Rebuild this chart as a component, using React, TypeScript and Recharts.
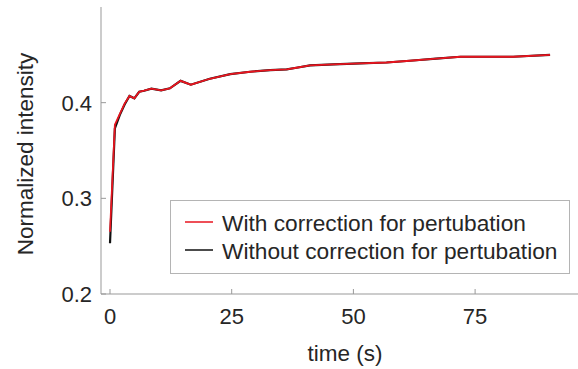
import { LineChart, Line, XAxis, YAxis, Legend } from "recharts";

// time (s)
const time = [0, 1, 2, 3, 4, 5, 6, 7, 8.5, 10.5, 12.3, 14.5, 16.6, 20.5, 24.7, 28.8, 32.9, 36.3, 38.3, 41.1, 45.9, 51.4, 56.8, 61.6, 67, 72, 76, 82.8, 90.4];
const withCorrection = [0.265, 0.377, 0.388, 0.399, 0.407, 0.4045, 0.4114, 0.4125, 0.4146, 0.4128, 0.415, 0.4228, 0.4188, 0.425, 0.4299, 0.4323, 0.4341, 0.4348, 0.4365, 0.439, 0.44, 0.441, 0.442, 0.4438, 0.446, 0.448, 0.448, 0.448, 0.45];
const withoutCorrection = [0.253, 0.373, 0.387, 0.398, 0.407, 0.4045, 0.4114, 0.4125, 0.4146, 0.4128, 0.415, 0.4228, 0.4188, 0.425, 0.4299, 0.4323, 0.4341, 0.4348, 0.4365, 0.439, 0.44, 0.441, 0.442, 0.4438, 0.446, 0.448, 0.448, 0.448, 0.45];
const xTicks = [0, 25, 50, 75];
const yTicks = [0.2, 0.3, 0.4];

const FONT = "'Liberation Sans', Arial, sans-serif";
const TEXT = "#262626";
const AXIS = "#999999";

const chartData = time.map((t, i) => ({
  t,
  withC: withCorrection[i],
  withoutC: withoutCorrection[i],
}));

const YTick = (props: any) => {
  const { x, y, payload } = props;
  return (
    <g>
      <line x1={x + 9} x2={x + 14} y1={y} y2={y} stroke={AXIS} />
      <text x={x} y={y + 8} textAnchor="end" fontSize={22} fontFamily={FONT} fill={TEXT}>
        {payload.value.toFixed(1)}
      </text>
    </g>
  );
};

const XTick = (props: any) => {
  const { x, y, payload } = props;
  return (
    <g>
      <line x1={x} x2={x} y1={y} y2={y - 5} stroke={AXIS} />
      <text x={x} y={y + 30} textAnchor="middle" fontSize={22} fontFamily={FONT} fill={TEXT}>
        {payload.value}
      </text>
    </g>
  );
};

const LegendBox = (props: any) => {
  const items = [...(props.payload ?? [])].sort((a: any) => (a.dataKey === "withC" ? -1 : 1));
  return (
    <svg width={400} height={74} style={{ display: "block" }}>
      <rect x={0.5} y={0.5} width={399} height={73} fill="#fff" stroke="#b4b4b4" />
      {items.map((item: any, i: number) => (
        <g key={item.value}>
          <line x1={15} x2={43} y1={22 + i * 28} y2={22 + i * 28} stroke={item.color} strokeWidth={1.5} />
          <text x={52} y={31 + i * 28} fontSize={22.7} fontFamily={FONT} fill={TEXT}>
            {item.value}
          </text>
        </g>
      ))}
    </svg>
  );
};

export default function App() {
  return (
    <div style={{ position: "absolute", left: 0, top: 0, background: "#fff" }}>
      <LineChart width={578} height={369} data={chartData} margin={{ top: 7, right: 0, left: 0, bottom: 0 }}>
        <XAxis
          dataKey="t"
          type="number"
          domain={[-1.85, 96.14]}
          ticks={xTicks}
          height={75}
          tickSize={0}
          tickMargin={0}
          tickLine={false}
          axisLine={{ stroke: AXIS }}
          tick={<XTick />}
          label={{
            content: () => (
              <text x={345} y={361} textAnchor="middle" fontSize={22.5} fontFamily={FONT} fill={TEXT}>
                time (s)
              </text>
            ),
          }}
        />
        <YAxis
          type="number"
          domain={[0.2, 0.5]}
          ticks={yTicks}
          width={101}
          tickSize={0}
          tickMargin={9}
          tickLine={false}
          axisLine={{ stroke: AXIS }}
          tick={<YTick />}
          label={{
            content: () => (
              <text
                x={33}
                y={154}
                transform="rotate(-90 33 154)"
                textAnchor="middle"
                fontSize={22.5}
                fontFamily={FONT}
                fill={TEXT}
              >
                Normalized intensity
              </text>
            ),
          }}
        />
        <Legend
          layout="horizontal"
          verticalAlign="middle"
          align="center"
          content={<LegendBox />}
          wrapperStyle={{ position: "absolute", left: 170, top: 200, width: 400, height: 74 }}
        />
        <Line
          type="linear"
          dataKey="withoutC"
          name="Without correction for pertubation"
          stroke="#111111"
          strokeWidth={2.2}
          dot={false}
          isAnimationActive={false}
        />
        <Line
          type="linear"
          dataKey="withC"
          name="With correction for pertubation"
          stroke="#e8151f"
          strokeWidth={1.8}
          dot={false}
          isAnimationActive={false}
        />
      </LineChart>
    </div>
  );
}
